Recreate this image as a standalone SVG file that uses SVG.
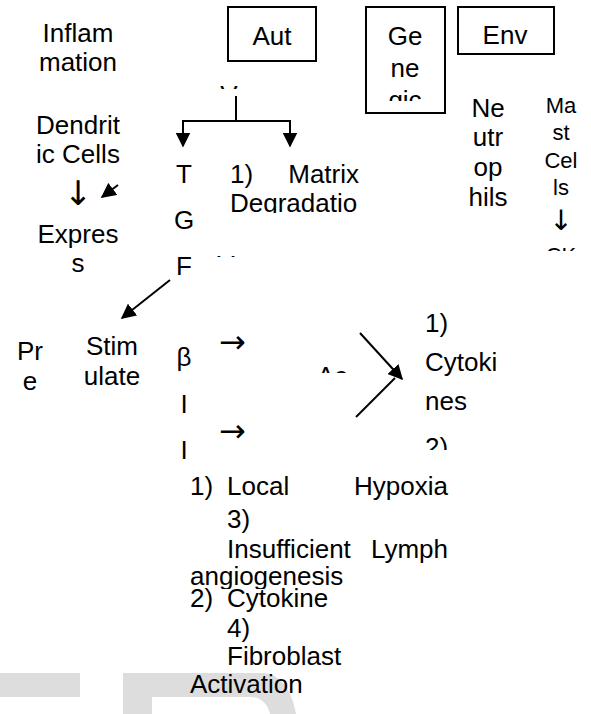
<svg xmlns="http://www.w3.org/2000/svg" width="591" height="714" viewBox="0 0 591 714">
<style>
text{font-family:"Liberation Sans",Arial,sans-serif;font-size:26px;fill:#000}
.c{text-anchor:middle}
.e{text-anchor:end}
.s{font-size:22px}
.ar{font-family:"DejaVu Sans","Liberation Sans",sans-serif;fill:#000}
.box{fill:#fff;stroke:#000;stroke-width:2}
.ln{stroke:#000;stroke-width:2;fill:none}
.wm{fill:#dddddd}
</style>
<defs>
<marker id="ah" viewBox="0 0 10 10" refX="9" refY="5" markerWidth="7.5" markerHeight="7.5" markerUnits="strokeWidth" orient="auto">
<path d="M0,0 L10,5 L0,10 Z" fill="#000"/>
</marker>
<clipPath id="cGen"><rect x="366" y="0" width="80" height="101"/></clipPath>
<clipPath id="cDeg"><rect x="220" y="190" width="150" height="23"/></clipPath>
<clipPath id="cCK"><rect x="530" y="240" width="60" height="11"/></clipPath>
<clipPath id="cAc"><rect x="300" y="360" width="60" height="13"/></clipPath>
<clipPath id="c2"><rect x="420" y="420" width="60" height="30"/></clipPath>
<clipPath id="cAng"><rect x="180" y="560" width="200" height="29"/></clipPath>
<clipPath id="cV1"><rect x="200" y="84" width="60" height="5"/></clipPath>
<clipPath id="cV2"><rect x="200" y="253" width="60" height="4"/></clipPath>
</defs>

<g id="watermark">
<rect class="wm" x="0" y="673" width="80" height="24"/>
<path class="wm" fill-rule="evenodd" d="M123,714 V673 H262 C280,673 292,690 296,714 Z M152,714 V697 H250 C262,697 268,705 270,714 Z"/>
</g>

<g id="connectors">
<line class="ln" x1="236" y1="96" x2="236" y2="121"/>
<line class="ln" x1="182" y1="121" x2="291" y2="121"/>
<line class="ln" x1="183" y1="120" x2="183" y2="146" marker-end="url(#ah)"/>
<line class="ln" x1="290" y1="120" x2="290" y2="146" marker-end="url(#ah)"/>
<line class="ln" x1="118" y1="185" x2="102" y2="197" marker-end="url(#ah)"/>
<line class="ln" x1="170" y1="280" x2="122" y2="318" marker-end="url(#ah)"/>
<line class="ln" x1="360" y1="333" x2="402" y2="379" marker-end="url(#ah)"/>
<line class="ln" x1="356" y1="417" x2="395" y2="378"/>
</g>

<g id="inflammation">
<text class="c" x="78" y="42">Inflam</text>
<text class="c" x="78" y="71">mation</text>
</g>

<g id="aut">
<rect class="box" x="228" y="7" width="88" height="54"/>
<text class="c" x="272" y="45">Aut</text>
<g clip-path="url(#cV1)"><text class="c" x="229" y="104">V</text></g>
</g>

<g id="genetic">
<rect class="box" x="366" y="7" width="79" height="106"/>
<g clip-path="url(#cGen)">
<text class="c" x="405" y="45">Ge</text>
<text class="c" x="405" y="77">ne</text>
<text class="c" x="405" y="109">gic</text>
</g>
</g>

<g id="env">
<rect class="box" x="458" y="7" width="96" height="47"/>
<text class="c" x="505" y="44">Env</text>
</g>

<g id="dendritic">
<text class="c" x="78" y="134">Dendrit</text>
<text class="c" x="78" y="163">ic Cells</text>
<text class="c ar" x="78" y="205" style="font-size:34px">↓</text>
<text class="c" x="78" y="243">Expres</text>
<text class="c" x="78" y="272">s</text>
</g>

<g id="tgf">
<text class="c" x="184" y="183">T</text>
<text class="c" x="184" y="229">G</text>
<text class="c" x="184" y="275">F</text>
<g clip-path="url(#cV2)"><text class="c" x="226" y="274">V</text></g>
<text class="c" x="184" y="366">β</text>
<text class="c" x="184" y="413">I</text>
<text class="c" x="184" y="459">I</text>
<text class="ar" x="219" y="353" style="font-size:32px">→</text>
<text class="ar" x="219" y="442" style="font-size:32px">→</text>
<g clip-path="url(#cAc)"><text x="317" y="385">Ac</text></g>
</g>

<g id="matrix">
<text x="230" y="183">1)</text>
<text class="e" x="359" y="183">Matrix</text>
<g clip-path="url(#cDeg)"><text x="230" y="212">Degradatio</text></g>
</g>

<g id="neutrophils">
<text class="c" x="488" y="117">Ne</text>
<text class="c" x="488" y="146">utr</text>
<text class="c" x="488" y="176">op</text>
<text class="c" x="488" y="206">hils</text>
</g>

<g id="mastcells">
<text class="c s" x="561" y="113">Ma</text>
<text class="c s" x="561" y="140">st</text>
<text class="c s" x="561" y="168">Cel</text>
<text class="c s" x="561" y="195">ls</text>
<text class="c ar" x="561" y="230" style="font-size:28px">↓</text>
<g clip-path="url(#cCK)"><text class="c s" x="561" y="263">CK</text></g>
</g>

<g id="pre">
<text class="c" x="30" y="360">Pr</text>
<text class="c" x="30" y="390">e</text>
</g>

<g id="stimulate">
<text class="c" x="112" y="355">Stim</text>
<text class="c" x="112" y="385">ulate</text>
</g>

<g id="cytokines">
<text x="425" y="332">1)</text>
<text x="425" y="371">Cytoki</text>
<text x="425" y="410">nes</text>
<g clip-path="url(#c2)"><text x="425" y="456">2)</text></g>
</g>

<g id="list">
<text x="190" y="495">1)</text>
<text x="227" y="495">Local</text>
<text class="e" x="448" y="495">Hypoxia</text>
<text x="227" y="528">3)</text>
<text x="227" y="558">Insufficient</text>
<text class="e" x="448" y="558">Lymph</text>
<g clip-path="url(#cAng)"><text x="190" y="585">angiogenesis</text></g>
<text x="190" y="607">2)</text>
<text x="227" y="607">Cytokine</text>
<text x="227" y="637">4)</text>
<text x="227" y="665">Fibroblast</text>
<text x="190" y="693">Activation</text>
</g>
</svg>
